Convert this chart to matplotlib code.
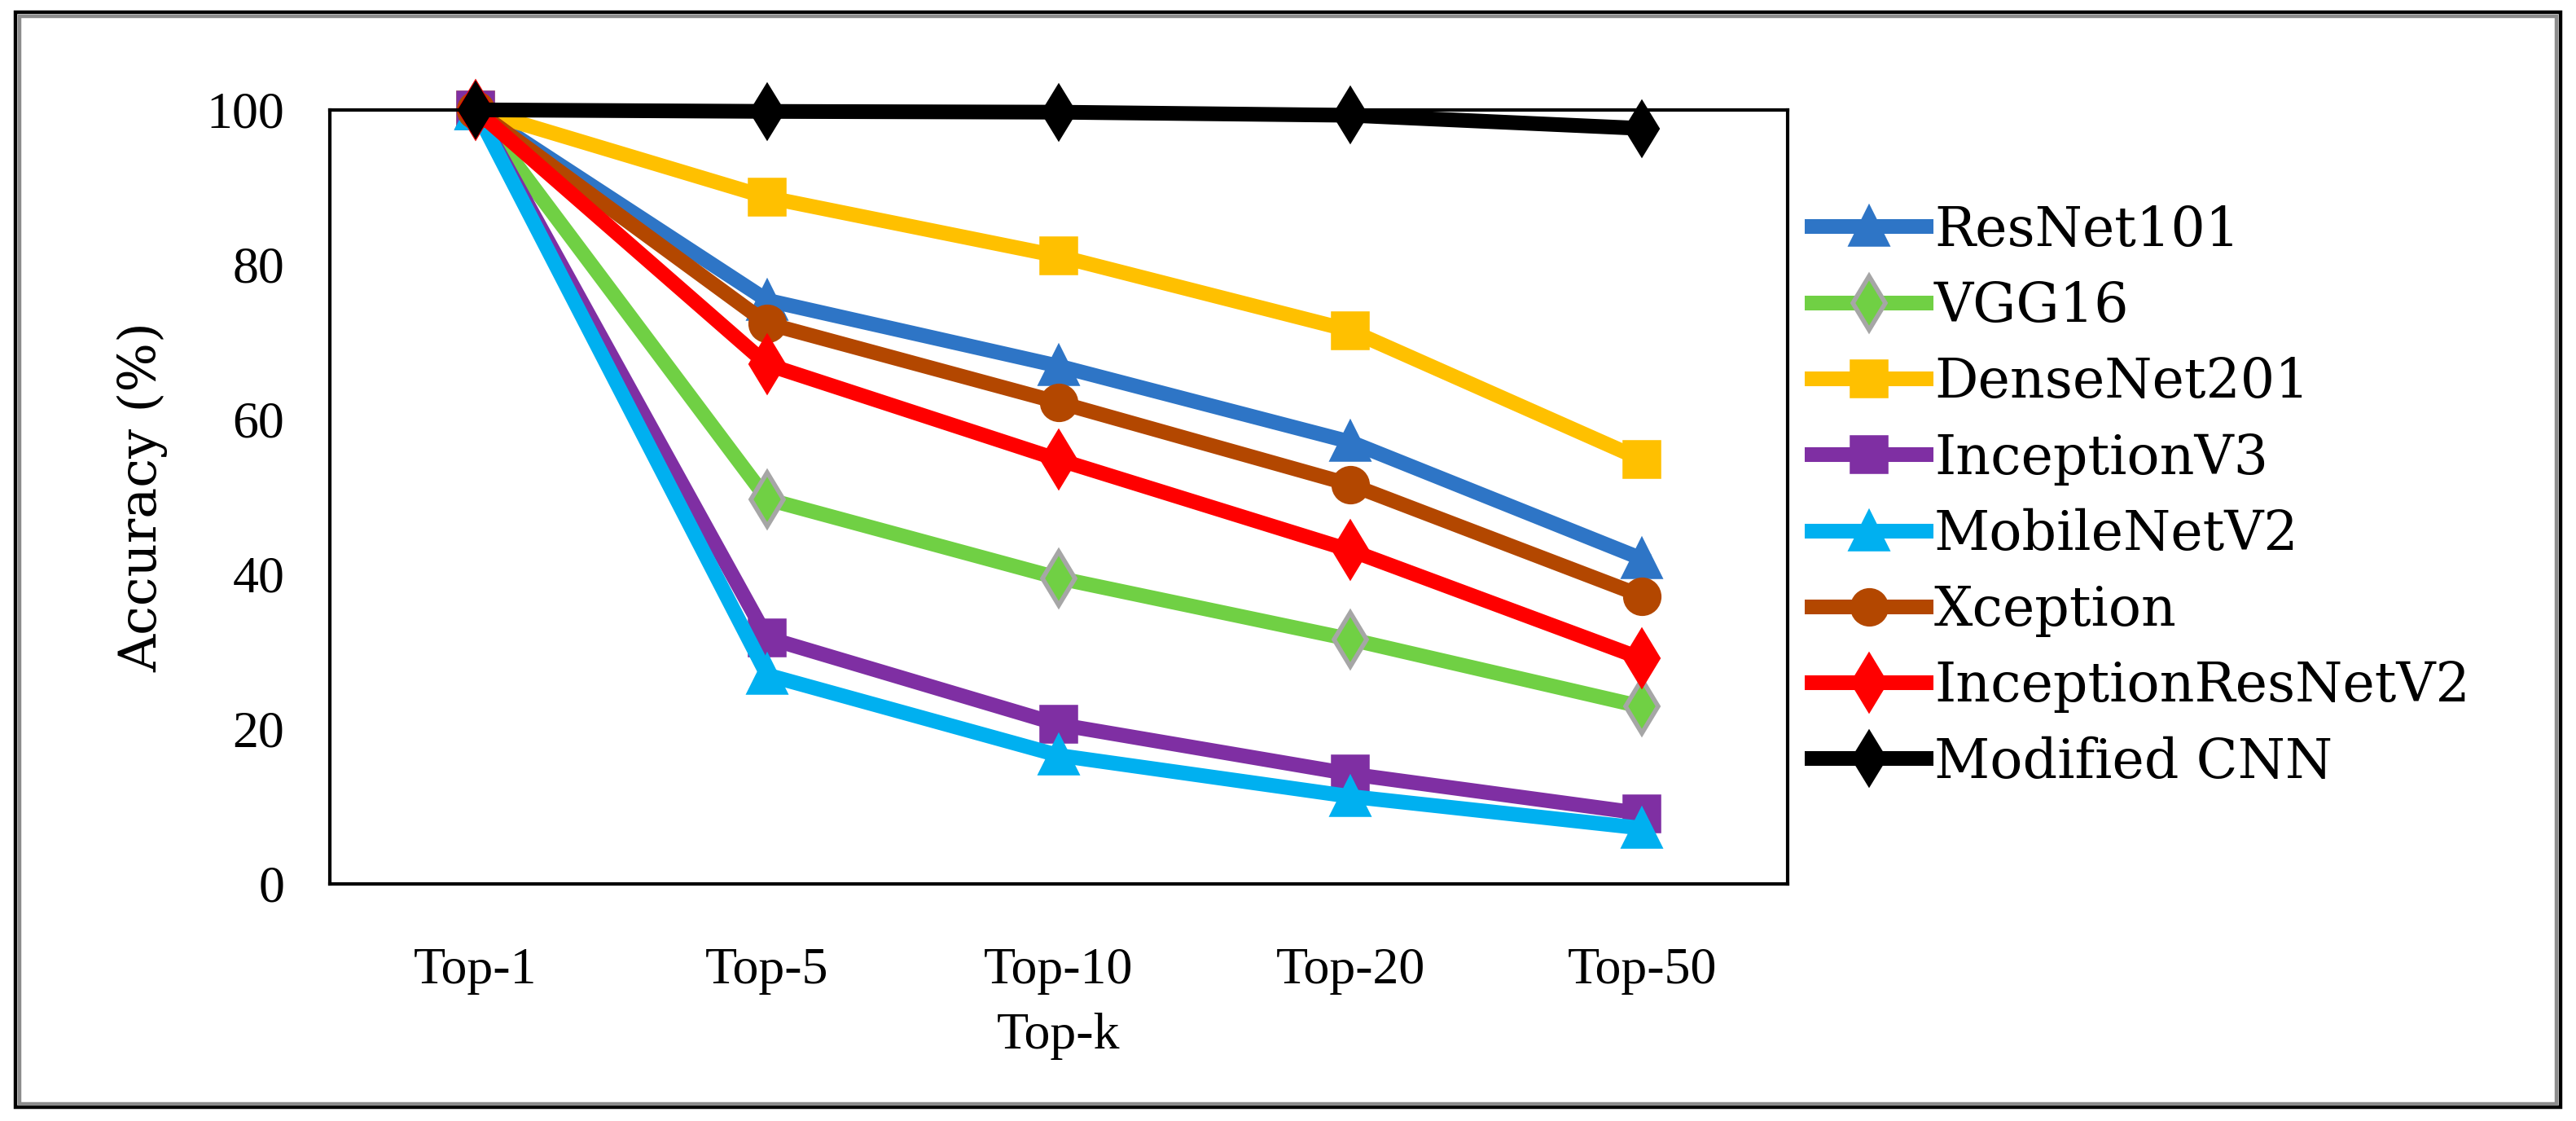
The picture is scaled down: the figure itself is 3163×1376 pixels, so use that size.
import matplotlib.pyplot as plt
from matplotlib.patches import Rectangle

# data
categories = ['Top-1', 'Top-5', 'Top-10', 'Top-20', 'Top-50']
resnet101 = [100, 75.4, 66.9, 57.1, 42.0]
vgg16 = [100, 49.7, 39.5, 31.6, 22.9]
densenet201 = [100, 88.7, 81.1, 71.5, 54.8]
inceptionv3 = [100, 31.8, 20.6, 14.2, 9.1]
mobilenetv2 = [100, 27.0, 16.6, 11.3, 7.2]
xception = [100, 72.4, 62.2, 51.6, 37.2]
inception_resnetv2 = [100, 67.1, 54.8, 43.1, 29.1]
modified_cnn = [100, 99.8, 99.7, 99.3, 97.6]
yticks = [0, 20, 40, 60, 80, 100]

plt.rcParams['font.family'] = ['Liberation Serif', 'DejaVu Serif']

fig = plt.figure(figsize=(15.815, 6.88), dpi=200)
ax = fig.add_axes([0.128, 0.2115, 0.566, 0.6905])

# (label, values, color, marker, markersize, edgecolor)
series = [
    ('ResNet101', resnet101, '#2E75C6', '^', 16, '#2E75C6'),
    ('VGG16', vgg16, '#70D044', 'd', 17, '#A6A6A6'),
    ('DenseNet201', densenet201, '#FFC000', 's', 15, '#FFC000'),
    ('InceptionV3', inceptionv3, '#7F2FA3', 's', 15, '#7F2FA3'),
    ('MobileNetV2', mobilenetv2, '#00B0F0', '^', 16, '#00B0F0'),
    ('Xception', xception, '#B34700', 'o', 15, '#B34700'),
    ('InceptionResNetV2', inception_resnetv2, '#FF0000', 'd', 17, '#FF0000'),
    ('Modified CNN', modified_cnn, '#000000', 'd', 16, '#000000'),
]

x = range(len(categories))
for name, vals, color, mk, ms, ec in series:
    ax.plot(x, vals, color=color, lw=6.5, marker=mk, markersize=ms,
            markerfacecolor=color, markeredgecolor=ec, markeredgewidth=2,
            label=name, clip_on=False)

ax.set_xlim(-0.5, 4.5)
ax.set_ylim(0, 100)
ax.set_xticks(list(x))
ax.set_xticklabels(categories)
ax.set_yticks(yticks)
ax.tick_params(axis='both', length=0, labelsize=23)
ax.tick_params(axis='x', pad=28)
ax.tick_params(axis='y', pad=20)
for sp in ax.spines.values():
    sp.set_linewidth(1.5)

ax.set_xlabel('Top-k', fontsize=23, labelpad=8)
ax.set_ylabel('Accuracy (%)', fontsize=23, family='DejaVu Serif', labelpad=17)

fig.legend(loc='center left', bbox_to_anchor=(0.695, 0.557), frameon=False,
           prop={'family': 'DejaVu Serif', 'size': 24},
           handlelength=2.1, handletextpad=0.15, labelspacing=0.42,
           borderaxespad=0)

# outer frame around the whole picture
fig.patches.append(Rectangle((0.006, 0.012), 0.988, 0.977, transform=fig.transFigure,
                             fill=False, edgecolor='black', lw=1.6))
fig.patches.append(Rectangle((0.0075, 0.0155), 0.985, 0.970, transform=fig.transFigure,
                             fill=False, edgecolor='#8C8C8C', lw=1.6))

plt.savefig('out.png', dpi=200)
plt.close()
